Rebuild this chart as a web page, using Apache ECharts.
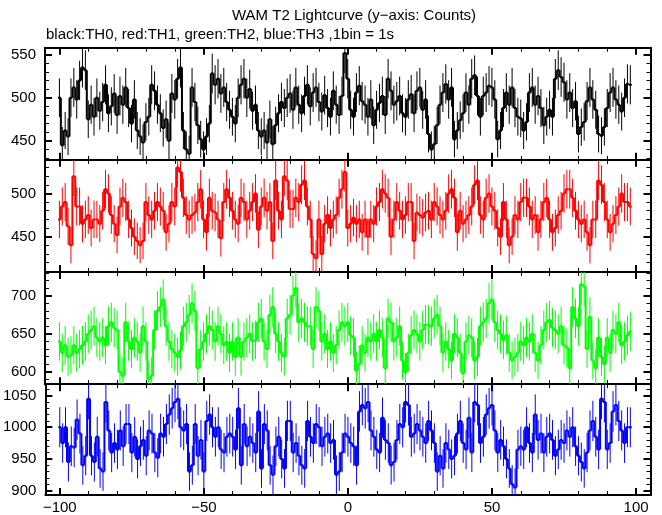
<!DOCTYPE html>
<html><head><meta charset="utf-8">
<script src="https://cdn.jsdelivr.net/npm/echarts@6/dist/echarts.min.js"></script>
<style>html,body{margin:0;padding:0;background:#fff}#c{width:662px;height:515px}</style>
</head><body><div id="c"></div>
<script>
const titleText = "WAM T2 Lightcurve (y\u2212axis: Counts)";
const subtitleText = "black:TH0, red:TH1, green:TH2, blue:TH3 ,1bin = 1s";
const binStart = -100;
const xTickMajor = [-100, -50, 0, 50, 100];
const xTickMinor = [-100,-90,-80,-70,-60,-50,-40,-30,-20,-10,0,10,20,30,40,50,60,70,80,90,100];

const th0 = [
500,445,462,455,500,512,498,520,535,532,
475,492,478,500,485,495,515,482,490,505,
480,502,492,512,488,470,498,462,455,448,
472,478,515,508,492,482,465,475,450,505,
498,522,535,462,440,435,512,495,468,452,
440,455,470,528,515,522,505,512,495,486,
478,470,500,515,522,500,510,485,492,462,
455,462,448,475,446,468,482,495,488,500,
505,486,512,492,482,502,515,490,506,512,
495,484,503,488,478,508,492,480,502,552,
522,486,478,506,514,496,492,478,498,468,
486,494,502,480,522,508,492,496,502,482,
478,498,504,482,508,512,486,498,458,440,
446,468,492,506,516,498,512,452,462,474,
482,506,492,522,526,502,478,502,506,514,
512,498,452,462,488,506,492,512,488,478,
476,462,472,506,512,492,502,488,468,478,
486,478,522,532,524,518,498,506,488,496,
458,466,472,496,512,498,486,458,456,466,
488,506,512,498,492,484,500,516,515];

const th1 = [
470,485,490,462,440,520,485,485,465,470,
475,460,470,470,465,480,505,500,475,465,
452,485,495,490,470,460,450,445,440,445,
490,475,470,480,490,485,480,455,465,490,
485,530,525,495,475,470,475,478,490,505,
470,455,495,480,478,470,448,490,505,495,
480,470,465,495,490,470,480,490,500,458,
485,495,480,490,445,515,480,470,520,515,
482,482,495,490,510,515,485,470,430,425,
470,430,465,475,460,470,475,495,505,525,
460,465,472,465,470,455,470,450,470,465,
485,490,505,500,495,450,470,490,480,470,
475,490,490,445,478,475,472,478,480,470,
490,485,475,470,480,500,505,495,455,480,
465,470,475,485,510,515,475,470,495,500,
485,480,460,450,490,470,440,450,475,470,
490,495,495,485,470,475,455,470,490,495,
470,455,460,475,480,500,505,505,495,480,
470,465,470,455,440,470,470,515,510,490,
470,455,465,475,485,500,490,490,485];

const th2 = [
640,625,635,620,622,635,625,630,635,640,
650,655,660,645,640,645,635,660,665,658,
655,600,595,665,640,630,645,640,625,660,
640,590,595,655,680,685,695,660,640,630,
625,620,628,660,665,675,690,680,605,630,
640,650,660,655,640,660,650,635,640,625,
640,620,645,620,640,645,650,640,642,665,
670,640,630,675,685,650,640,625,620,670,
675,700,710,665,670,665,660,660,630,685,
680,640,650,630,640,625,635,655,665,660,
665,648,645,602,610,635,625,645,640,650,
640,655,645,605,670,665,640,645,660,615,
600,625,648,655,650,640,655,662,662,660,
670,675,660,625,640,630,615,650,645,625,
598,640,648,645,615,620,660,665,670,690,
695,665,655,650,642,648,625,615,620,625,
640,635,645,640,650,625,615,635,655,665,
668,658,655,650,660,635,632,605,685,670,
660,715,712,630,672,615,605,645,620,610,
645,625,655,650,665,635,640,648,653];

const th3 = [
1000,975,1000,945,970,968,1012,990,940,955,
1045,955,945,985,935,930,1040,995,960,975,
965,995,970,1005,1005,960,985,950,970,980,
955,995,990,960,952,990,985,1005,1020,1030,
1040,1045,1000,995,1005,930,940,1005,955,980,
930,1010,1020,1000,985,1000,965,960,985,990,
985,965,1030,940,1005,970,985,975,960,1025,
935,1005,995,940,925,970,985,950,935,1010,
1010,960,975,955,940,935,1010,985,975,1005,
1000,970,985,990,975,980,925,930,960,990,
985,975,970,940,1025,1035,1030,1040,995,985,
965,960,1015,980,975,940,945,980,1005,1000,
1040,1035,985,990,1005,995,985,975,1010,995,
975,930,955,935,975,965,950,955,990,1010,
975,965,1015,960,1040,1035,975,985,1020,1030,
1035,995,960,980,970,950,935,910,905,965,
970,965,1000,975,960,1020,980,990,960,985,
990,980,955,965,980,975,995,985,1000,970,
955,945,935,960,995,1010,985,965,1045,1040,
965,975,1025,1035,1010,995,975,1000,1000];

const panels = [
  {name:'TH0', color:'#000000', values:th0, min:428, max:558, major:[450,500,550], minor:[430,440,450,460,470,480,490,500,510,520,530,540,550]},
  {name:'TH1', color:'#ff0000', values:th1, min:409, max:539, major:[450,500], minor:[410,420,430,440,450,460,470,480,490,500,510,520,530]},
  {name:'TH2', color:'#00ff00', values:th2, min:584, max:731, major:[600,650,700], minor:[590,600,610,620,630,640,650,660,670,680,690,700,710,720,730]},
  {name:'TH3', color:'#0000ff', values:th3, min:893, max:1068, major:[900,950,1000,1050], minor:[900,910,920,930,940,950,960,970,980,990,1000,1010,1020,1030,1040,1050,1060]}
];

const FONT = 'Liberation Sans, Arial, Helvetica, sans-serif';
const gridTop0 = 47.7, gridH = 112.15;
const grids = [], xAxes = [], yAxes = [], series = [];
const fmtMinus = v => String(v).replace('-', '\u2212');
const fmtPlain = v => String(v);

panels.forEach((p, gi) => {
  grids.push({left:45, right:11.5, top: gridTop0 + gi*gridH, height: gridH, containLabel:false});
  const isLast = gi === panels.length - 1;
  const baseX = {type:'value', gridIndex:gi, min:-105, max:105, splitLine:{show:false}};
  xAxes.push(Object.assign({}, baseX, {position:'bottom',
    axisLine:{show:true, onZero:false, lineStyle:{color:'#000', width:2}},
    axisTick:{show:true, inside:true, length:7, lineStyle:{color:'#000', width:2}, customValues:xTickMajor},
    axisLabel:{show:isLast, customValues:xTickMajor, formatter:fmtMinus, color:'#000', fontSize:15, fontFamily:FONT, margin:5}}));
  xAxes.push(Object.assign({}, baseX, {position:'bottom',
    axisLine:{show:false, onZero:false},
    axisTick:{show:true, inside:true, length:4, lineStyle:{color:'#000', width:1}, customValues:xTickMinor},
    axisLabel:{show:false}}));
  xAxes.push(Object.assign({}, baseX, {position:'top',
    axisLine:{show:true, onZero:false, lineStyle:{color:'#000', width:2}},
    axisTick:{show:true, inside:true, length:7, lineStyle:{color:'#000', width:2}, customValues:xTickMajor},
    axisLabel:{show:false}}));
  xAxes.push(Object.assign({}, baseX, {position:'top',
    axisLine:{show:false, onZero:false},
    axisTick:{show:true, inside:true, length:4, lineStyle:{color:'#000', width:1}, customValues:xTickMinor},
    axisLabel:{show:false}}));

  const baseY = {type:'value', gridIndex:gi, min:p.min, max:p.max, splitLine:{show:false}};
  yAxes.push(Object.assign({}, baseY, {position:'left',
    axisLine:{show:true, onZero:false, lineStyle:{color:'#000', width:2}},
    axisTick:{show:true, inside:true, length:7, lineStyle:{color:'#000', width:2}, customValues:p.major},
    axisLabel:{show:true, customValues:p.major, formatter:fmtPlain, color:'#000', fontSize:15, fontFamily:FONT, margin:9}}));
  yAxes.push(Object.assign({}, baseY, {position:'left',
    axisLine:{show:false, onZero:false},
    axisTick:{show:true, inside:true, length:4, lineStyle:{color:'#000', width:1}, customValues:p.minor},
    axisLabel:{show:false}}));
  yAxes.push(Object.assign({}, baseY, {position:'right',
    axisLine:{show:true, onZero:false, lineStyle:{color:'#000', width:2}},
    axisTick:{show:true, inside:true, length:7, lineStyle:{color:'#000', width:2}, customValues:p.major},
    axisLabel:{show:false}}));
  yAxes.push(Object.assign({}, baseY, {position:'right',
    axisLine:{show:false, onZero:false},
    axisTick:{show:true, inside:true, length:4, lineStyle:{color:'#000', width:1}, customValues:p.minor},
    axisLabel:{show:false}}));

  const data = p.values.map((v, i) => [binStart + i, v]);
  const vals = p.values;
  series.push({
    type:'custom', name:p.name, xAxisIndex: gi*4, yAxisIndex: gi*4, clip:true, silent:true, animation:false,
    data: data,
    renderItem: function(params, api){
      const i = params.dataIndex;
      const t = api.value(0), v = api.value(1);
      const e = Math.sqrt(v);
      const a = api.coord([t-0.5, v]), b = api.coord([t+0.5, v]);
      const up = api.coord([t, v+e]), dn = api.coord([t, v-e]);
      const ch = [
        {type:'line', shape:{x1:up[0], y1:up[1], x2:dn[0], y2:dn[1]}, style:{stroke:p.color, lineWidth:1}},
        {type:'line', shape:{x1:a[0], y1:a[1], x2:b[0], y2:b[1]}, style:{stroke:p.color, lineWidth:2}}
      ];
      if (i > 0) {
        const q = api.coord([t-0.5, vals[i-1]]);
        ch.push({type:'line', shape:{x1:q[0], y1:q[1], x2:a[0], y2:a[1]}, style:{stroke:p.color, lineWidth:2}});
      }
      return {type:'group', children:ch};
    }
  });
});

const chart = echarts.init(document.getElementById('c'), null, {renderer:'canvas'});
chart.setOption({
  animation:false,
  backgroundColor:'#fff',
  grid: grids, xAxis: xAxes, yAxis: yAxes, series: series,
  graphic: [
    {type:'text', left:232, top:8, style:{text:titleText, fill:'#000', font:'15px ' + FONT}},
    {type:'text', left:46, top:27, style:{text:subtitleText, fill:'#000', font:'15px ' + FONT}}
  ]
});
</script></body></html>
